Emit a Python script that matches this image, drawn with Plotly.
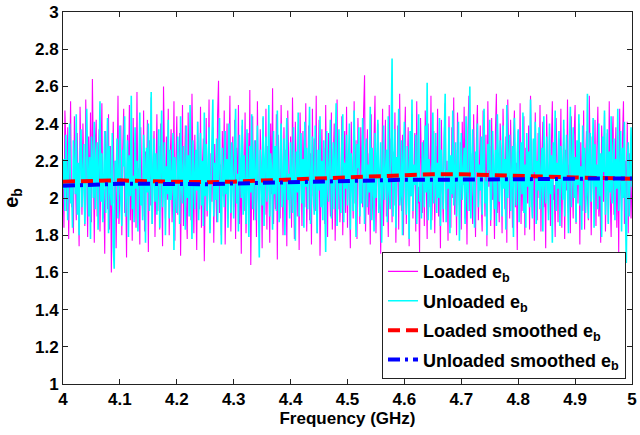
import numpy as np
import plotly.graph_objects as go

loaded_eb = [
    2.12, 1.84, 2.47, 2.30, 1.93, 2.38, 1.78, 2.21, 2.52, 1.95, 2.06, 1.81, 2.44, 2.15, 1.88, 2.35, 2.00, 1.74, 2.49, 2.26,
    1.91, 2.40, 2.08, 1.85, 2.53, 2.18, 1.79, 2.33, 1.97, 2.46, 1.87, 2.64, 2.03, 1.76, 2.29, 2.42, 1.90, 2.14, 2.37, 1.82,
    2.24, 2.51, 1.89, 2.05, 1.70, 2.36, 2.17, 1.94, 2.45, 1.83, 2.28, 1.60, 2.10, 2.41, 1.97, 2.20, 1.73, 2.32, 2.55, 1.86,
    2.02, 2.39, 1.80, 2.26, 2.48, 1.92, 2.13, 1.68, 2.34, 2.07, 2.50, 1.88, 2.19, 1.77, 2.43, 2.01, 2.30, 1.84, 2.57, 1.95,
    2.16, 1.75, 2.38, 2.09, 1.90, 2.47, 1.82, 2.25, 2.04, 2.42, 1.71, 2.31, 1.96, 2.54, 1.86, 2.18, 2.36, 1.79, 2.11, 2.45,
    1.93, 2.28, 1.83, 2.40, 2.06, 1.74, 2.60, 2.14, 1.89, 2.33, 1.99, 2.48, 1.80, 2.22, 2.37, 1.87, 2.03, 2.52, 1.77, 2.19,
    2.44, 1.91, 2.08, 2.35, 1.69, 2.27, 2.50, 1.85, 2.15, 2.39, 1.96, 1.78, 2.46, 2.02, 2.30, 1.88, 2.56, 2.12, 1.81, 2.34,
    2.05, 1.72, 2.41, 2.20, 1.94, 2.49, 1.84, 2.17, 2.32, 1.66, 2.26, 2.43, 1.90, 2.09, 2.53, 1.83, 2.24, 1.98, 2.38, 1.76,
    2.29, 2.11, 1.87, 2.45, 2.63, 1.92, 2.18, 1.80, 2.36, 2.01, 2.47, 1.75, 2.23, 2.40, 1.89, 2.13, 2.55, 1.82, 2.07, 2.33,
    1.95, 2.42, 1.78, 2.27, 2.04, 2.50, 1.86, 2.16, 1.70, 2.39, 2.21, 1.93, 2.46, 1.81, 2.10, 2.35, 1.97, 2.58, 1.64, 2.25,
    2.44, 1.88, 2.14, 2.31, 1.79, 2.52, 2.00, 1.85, 2.37, 2.19, 1.73, 2.43, 2.06, 1.91, 2.48, 1.83, 2.28, 2.12, 1.76, 2.40,
    2.02, 2.59, 1.86, 2.23, 1.94, 2.45, 1.67, 2.34, 2.08, 1.89, 2.50, 2.15, 1.80, 2.38, 1.98, 2.26, 1.74, 2.47, 2.10, 1.92,
    2.33, 1.84, 2.54, 2.03, 1.78, 2.41, 2.17, 1.90, 2.29, 1.72, 2.46, 2.07, 1.85, 2.36, 2.20, 1.95, 2.51, 1.82, 2.13, 2.39,
    1.88, 2.24, 1.75, 2.48, 2.01, 2.32, 1.93, 2.55, 1.81, 2.18, 2.42, 1.69, 2.09, 2.37, 1.96, 2.27, 1.86, 2.50, 2.04, 1.79,
    2.35, 2.14, 1.90, 2.46, 1.83, 2.22, 2.40, 1.77, 2.11, 2.53, 1.94, 2.30, 1.87, 2.05, 2.44, 1.80, 2.19, 2.36, 1.92, 2.49,
    1.84, 2.26, 2.03, 1.73, 2.41, 2.16, 1.89, 2.52, 1.97, 2.31, 1.78, 2.43, 2.08, 1.86, 2.38, 2.21, 1.95, 2.47, 2.66, 1.82,
    2.12, 2.37, 1.91, 2.24, 1.75, 2.45, 2.02, 1.88, 2.33, 2.55, 1.81, 2.17, 2.40, 1.94, 2.07, 1.70, 2.29, 2.48, 1.85, 2.20,
    2.42, 1.90, 2.14, 1.79, 2.50, 2.04, 2.32, 1.87, 2.25, 1.96, 2.46, 1.76, 2.18, 2.39, 1.83, 2.56, 2.09, 1.93, 2.34, 1.80,
    2.27, 2.49, 1.86, 2.11, 2.38, 1.74, 2.22, 2.01, 2.45, 1.89, 2.15, 2.35, 1.82, 2.52, 1.97, 2.06, 1.71, 2.43, 2.19, 1.92,
    2.31, 1.85, 2.47, 2.08, 1.78, 2.40, 2.23, 1.95, 2.55, 1.88, 2.13, 2.36, 1.81, 2.28, 2.02, 2.48, 1.90, 2.17, 1.73, 2.42,
    2.05, 1.87, 2.33, 2.51, 1.94, 2.20, 1.77, 2.44, 2.10, 1.84, 2.38, 2.00, 2.54, 1.91, 2.26, 1.80, 2.46, 2.14, 1.96, 2.30,
    1.83, 2.41, 2.07, 2.49, 1.89, 2.18, 1.75, 2.36, 2.55, 1.93, 2.24, 2.02, 1.86, 2.45, 2.12, 1.79, 2.32, 2.50, 1.88, 2.16,
    2.39, 1.97, 1.82, 2.47, 2.21, 1.90, 2.34, 1.74, 2.52, 2.06, 2.28, 1.85, 2.43, 1.99, 2.15, 1.78, 2.37, 2.56, 1.92, 2.11,
    1.87, 2.40, 2.25, 1.81, 2.48, 2.03, 1.94, 2.33, 1.76, 2.53, 2.17, 1.89, 2.42, 2.09, 1.84, 2.30, 2.47, 1.95, 2.19, 1.72,
    2.36, 2.01, 2.51, 1.86, 2.22, 1.93, 2.44, 1.80, 2.27, 2.13, 1.97, 2.39, 1.83, 2.55, 2.05, 1.90, 2.31, 1.77, 2.46, 2.18,
    1.88, 2.35, 2.00, 2.50, 1.82, 2.24, 2.41, 1.95, 2.10, 1.73, 2.45, 2.16, 1.91, 2.38, 1.85, 2.29, 2.52, 1.99, 2.07, 1.79,
    2.43, 2.20, 1.87, 2.32, 1.96, 2.48, 1.84, 2.14, 2.37, 1.78, 2.26, 2.04, 2.53, 1.92, 2.18, 1.81, 2.44, 2.09, 1.89, 2.34,
    2.50, 1.86, 2.23, 1.97, 2.40, 1.75, 2.30, 2.12, 1.93, 2.47, 1.83, 2.19, 2.36, 2.01, 1.88, 2.55, 2.06, 1.80, 2.33, 2.15,
    1.94, 2.42, 1.85, 2.27, 2.49, 1.90, 2.08, 1.76, 2.39, 2.21, 1.98, 2.46, 1.82, 2.13, 2.35, 1.87, 2.52, 2.02, 1.79, 2.29,
    2.44, 1.91, 2.17, 2.38, 1.84, 2.26, 1.70, 2.48, 2.05, 1.93, 2.33, 2.52, 1.86, 2.20, 1.97, 2.41, 1.81, 2.24, 2.09, 1.89,
    2.11,
]

unloaded_eb = [
    2.05, 2.21, 1.93, 2.34, 2.12, 1.88, 2.27, 2.40, 1.97, 2.08, 1.84, 2.31, 2.16, 2.02, 2.45, 1.91, 2.19, 1.80, 2.25, 2.37,
    1.95, 2.10, 2.29, 1.86, 2.03, 2.48, 2.14, 1.90, 2.22, 1.78, 2.33, 2.07, 2.00, 2.41, 1.94, 2.18, 2.30, 1.83, 2.11, 2.52,
    1.98, 2.24, 1.87, 2.06, 2.36, 1.92, 2.15, 2.43, 1.81, 2.28, 2.04, 1.96, 2.35, 1.74, 1.62, 2.20, 2.09, 2.32, 1.89, 2.13,
    2.39, 1.99, 1.85, 2.26, 2.17, 2.44, 1.90, 2.06, 2.31, 1.79, 2.23, 2.01, 2.55, 1.94, 2.12, 1.87, 2.38, 2.05, 2.20, 1.82,
    2.29, 2.46, 1.96, 2.10, 1.88, 2.34, 2.19, 1.76, 2.27, 2.03, 2.40, 1.93, 2.15, 2.57, 1.86, 2.08, 2.32, 1.98, 2.24, 1.91,
    2.13, 2.37, 1.84, 2.21, 2.47, 1.95, 2.06, 2.30, 1.80, 2.17, 2.02, 2.42, 1.89, 2.26, 1.99, 2.11, 2.35, 1.72, 2.22, 2.04,
    1.92, 2.33, 2.18, 1.86, 2.44, 2.07, 1.97, 2.28, 2.14, 1.83, 2.39, 2.00, 2.23, 1.90, 2.50, 2.09, 1.78, 2.31, 2.16, 1.94,
    2.26, 2.04, 2.41, 1.88, 2.12, 2.35, 1.96, 2.20, 1.85, 2.46, 2.01, 2.29, 1.93, 2.15, 2.38, 1.81, 2.08, 2.24, 2.53, 1.90,
    2.19, 1.99, 2.32, 1.87, 2.10, 2.43, 2.05, 1.75, 2.27, 2.14, 1.95, 2.36, 2.02, 2.21, 1.84, 2.40, 2.11, 1.92, 2.30, 2.07,
    1.89, 2.25, 2.48, 1.97, 2.13, 1.82, 2.34, 2.18, 2.00, 2.42, 1.91, 2.23, 2.06, 1.86, 2.37, 2.15, 1.79, 2.28, 2.03, 2.45,
    1.94, 2.17, 2.31, 1.88, 2.09, 2.39, 2.01, 1.68, 2.26, 2.12, 1.96, 2.44, 1.85, 2.20, 2.33, 1.98, 2.07, 2.50, 1.90, 2.24,
    2.14, 1.83, 2.36, 2.02, 2.28, 1.93, 2.47, 2.10, 1.87, 2.22, 2.40, 1.95, 2.05, 2.32, 1.80, 2.19, 2.43, 1.99, 2.13, 1.89,
    2.30, 2.08, 1.92, 2.38, 2.16, 1.77, 2.25, 2.03, 2.46, 1.90, 2.11, 2.35, 1.97, 2.21, 1.84, 2.41, 2.06, 2.27, 1.94, 2.18,
    2.49, 1.86, 2.12, 2.33, 2.00, 1.91, 2.39, 2.15, 1.81, 2.26, 2.04, 2.44, 1.95, 2.20, 1.88, 2.31, 2.09, 1.71, 2.36, 2.13,
    1.98, 2.23, 2.42, 1.89, 2.07, 2.30, 1.94, 2.17, 2.51, 1.85, 2.11, 2.37, 2.02, 1.92, 2.28, 2.45, 1.87, 2.19, 2.05, 2.34,
    1.96, 2.14, 2.40, 1.83, 2.24, 2.08, 1.93, 2.47, 2.01, 1.79, 2.29, 2.16, 2.38, 1.90, 2.12, 1.97, 2.43, 2.06, 1.86, 2.25,
    2.32, 1.95, 2.18, 2.03, 2.49, 1.88, 2.27, 2.10, 1.82, 2.35, 2.00, 2.21, 2.42, 1.92, 2.07, 2.30, 1.76, 2.19, 2.39, 1.99,
    2.13, 2.26, 1.87, 2.44, 2.04, 1.94, 2.33, 2.75, 1.90, 2.15, 2.37, 1.84, 2.22, 2.09, 2.48, 1.96, 2.02, 2.31, 1.80, 2.20,
    2.41, 2.05, 1.91, 2.28, 2.14, 1.78, 2.36, 2.01, 2.53, 1.93, 2.18, 2.07, 2.34, 1.86, 2.24, 2.45, 1.98, 2.11, 1.89, 2.30,
    2.17, 1.95, 2.39, 2.03, 2.62, 1.88, 2.21, 2.12, 1.83, 2.29, 2.46, 1.97, 2.08, 2.35, 1.92, 2.19, 2.00, 2.43, 1.85, 2.26,
    2.10, 1.94, 2.32, 2.56, 1.87, 2.15, 2.05, 2.38, 1.81, 2.23, 2.02, 2.47, 1.96, 2.13, 2.30, 1.90, 2.20, 2.41, 1.77, 2.09,
    2.35, 1.99, 2.16, 2.27, 1.86, 2.44, 2.06, 1.93, 2.31, 2.60, 1.89, 2.11, 2.37, 2.01, 1.84, 2.25, 2.14, 2.40, 1.95, 2.18,
    2.04, 2.33, 1.91, 2.22, 2.48, 1.97, 2.09, 1.80, 2.29, 2.15, 2.42, 1.88, 2.03, 2.36, 2.19, 1.94, 2.26, 1.85, 2.45, 2.07,
    1.98, 2.31, 2.12, 1.90, 2.39, 2.05, 2.21, 1.83, 2.50, 2.00, 2.17, 2.34, 1.93, 2.08, 2.28, 1.79, 2.43, 2.13, 1.96, 2.24,
    2.37, 1.87, 2.10, 2.30, 2.02, 2.46, 1.92, 2.18, 1.84, 2.35, 2.06, 2.25, 1.95, 2.53, 2.01, 1.89, 2.32, 2.14, 2.41, 1.86,
    2.20, 2.04, 2.38, 1.94, 2.11, 2.27, 1.82, 2.44, 2.08, 1.97, 2.33, 2.16, 1.88, 2.40, 2.02, 2.23, 1.76, 2.30, 2.12, 2.47,
    1.93, 2.19, 2.05, 2.36, 1.85, 2.28, 2.09, 1.99, 2.42, 1.90, 2.15, 2.34, 2.03, 1.81, 2.26, 2.49, 1.95, 2.13, 2.38, 2.00,
    2.22, 1.87, 2.31, 2.07, 2.45, 1.96, 2.17, 1.83, 2.39, 2.10, 2.27, 1.92, 2.04, 2.56, 1.89, 2.20, 2.35, 1.98, 2.12, 2.43,
    1.84, 2.29, 2.06, 2.18, 1.94, 2.40, 2.01, 2.24, 1.79, 2.33, 2.14, 2.47, 1.91, 2.09, 2.37, 1.86, 2.25, 2.03, 2.44, 1.97,
    2.16, 2.32, 1.88, 2.21, 2.05, 2.48, 1.93, 2.11, 2.36, 1.82, 2.27, 2.00, 2.41, 1.95, 1.65, 2.19, 2.30, 1.90, 2.14, 2.38,
    2.06,
]

# Frequency grid for the raw measurements (GHz), evenly spaced from 4 to 5
freq = np.linspace(4.0, 5.0, len(loaded_eb))

# Smoothed curves on a coarser grid
freq_smooth = [4.00, 4.05, 4.10, 4.15, 4.20, 4.25, 4.30, 4.35, 4.40, 4.45, 4.50,
               4.55, 4.60, 4.65, 4.70, 4.75, 4.80, 4.85, 4.90, 4.95, 5.00]
loaded_smooth = [2.088, 2.092, 2.095, 2.090, 2.086, 2.085, 2.088, 2.094, 2.100, 2.106, 2.112,
                 2.120, 2.126, 2.128, 2.128, 2.125, 2.120, 2.115, 2.110, 2.106, 2.104]
unloaded_smooth = [2.066, 2.072, 2.076, 2.076, 2.074, 2.074, 2.078, 2.082, 2.086, 2.090, 2.093,
                   2.096, 2.098, 2.098, 2.098, 2.099, 2.100, 2.102, 2.104, 2.105, 2.105]

x_ticks = [4.0, 4.1, 4.2, 4.3, 4.4, 4.5, 4.6, 4.7, 4.8, 4.9, 5.0]
x_tick_text = ["4", "4.1", "4.2", "4.3", "4.4", "4.5", "4.6", "4.7", "4.8", "4.9", "5"]
y_ticks = [1.0, 1.2, 1.4, 1.6, 1.8, 2.0, 2.2, 2.4, 2.6, 2.8, 3.0]
y_tick_text = ["1", "1.2", "1.4", "1.6", "1.8", "2", "2.2", "2.4", "2.6", "2.8", "3"]

FONT = "Liberation Sans, Arial, sans-serif"

fig = go.Figure()
fig.add_trace(go.Scatter(x=freq, y=loaded_eb, mode="lines", name="Loaded e<sub>b</sub>",
                         legendgroup="a", line=dict(color="#FF00FF", width=1.1)))
fig.add_trace(go.Scatter(x=freq, y=unloaded_eb, mode="lines", name="Unloaded e<sub>b</sub>",
                         legendgroup="b", line=dict(color="#00FFFF", width=1.6)))
fig.add_trace(go.Scatter(x=freq_smooth, y=loaded_smooth, mode="lines",
                         name="Loaded smoothed e<sub>b</sub>", legendgroup="c",
                         line=dict(color="#FF0000", width=4, dash="12px,6px")))
fig.add_trace(go.Scatter(x=freq_smooth, y=unloaded_smooth, mode="lines",
                         name="Unloaded smoothed e<sub>b</sub>", legendgroup="d",
                         line=dict(color="#0000FF", width=4, dash="12px,5px,3px,5px")))

axis_common = dict(
    showgrid=False, zeroline=False, showline=True, linecolor="#222222", linewidth=1,
    mirror="ticks", ticks="inside", ticklen=5, tickcolor="#222222",
    tickfont=dict(family=FONT, size=17, color="black", weight="bold"),
)

fig.update_layout(
    width=640, height=435,
    margin=dict(l=63, r=3, t=12, b=51),
    paper_bgcolor="white", plot_bgcolor="white",
    font=dict(family=FONT, size=17, color="black", weight="bold"),
    xaxis=dict(range=[4, 5], tickvals=x_ticks, ticktext=x_tick_text,
               ticklabeloverflow="allow",
               title=dict(text="Frequency (GHz)", standoff=3,
                          font=dict(family=FONT, size=17, color="black", weight="bold")),
               **axis_common),
    yaxis=dict(range=[1, 3], tickvals=y_ticks, ticktext=y_tick_text,
               title=dict(text="e<sub>b</sub>", standoff=13,
                          font=dict(family=FONT, size=20, color="black", weight="bold")),
               **axis_common),
    legend=dict(x=0.9895, y=0.013, xanchor="right", yanchor="bottom",
                bgcolor="white", bordercolor="#222222", borderwidth=1,
                font=dict(family=FONT, size=18, color="black", weight="bold"),
                tracegroupgap=3),
    showlegend=True,
)

fig.write_html("out.html")
